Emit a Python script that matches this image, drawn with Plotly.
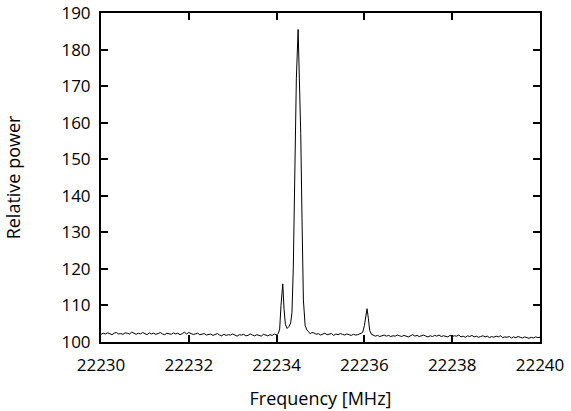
"""Spectrum chart: relative power vs frequency."""

import plotly.graph_objects as go

# baseline segments: start frequency, sample step [MHz], values
left_start, left_step = 22230.0, 0.05
left_power = [
    102.1, 102.4, 102.2, 102.5, 102.3, 102.0, 102.4, 102.6, 102.2, 102.3,
    102.1, 102.5, 102.4, 102.2, 102.7, 102.3, 102.1, 102.4, 102.2, 102.6,
    102.3, 102.0, 102.5, 102.2, 102.4, 102.1, 102.3, 102.6, 102.2, 102.0,
    102.4, 102.3, 102.1, 102.5, 102.2, 102.4, 102.0, 102.3, 102.7, 102.2,
    102.6, 102.3, 102.1, 102.2, 102.4, 102.0, 102.2, 102.3, 101.9, 102.1,
    102.2, 101.8, 102.0, 102.3, 101.9, 101.7, 102.1, 101.8, 102.0, 101.9,
    102.2, 101.8, 101.6, 102.0, 101.9, 102.1, 101.7, 101.8, 102.2, 101.9,
    101.7, 102.0, 101.8, 101.6, 102.1, 101.9, 101.7, 102.0, 101.8, 102.2,
]

# doublet region (explicit samples)
peak1_freq = [
    22234.00, 22234.04, 22234.07, 22234.10, 22234.14, 22234.17, 22234.20,
    22234.24, 22234.28, 22234.32, 22234.35, 22234.38, 22234.42, 22234.45,
    22234.49, 22234.52, 22234.55, 22234.58, 22234.61, 22234.65, 22234.69,
    22234.73, 22234.77, 22234.80,
]
peak1_power = [
    101.9, 102.4, 103.5, 110.0, 115.9, 109.0, 104.8,
    103.7, 104.2, 105.2, 108.0, 120.0, 148.0, 172.0,
    185.5, 172.0, 157.0, 133.0, 111.5, 104.5, 103.3,
    102.8, 102.2, 102.6,
]

mid_start, mid_step = 22234.85, 0.05
mid_power = [
    102.5, 102.1, 102.3, 101.9, 102.2, 102.4, 102.0, 102.1, 102.3, 101.8,
    102.2, 102.0, 102.3, 102.1, 101.9, 102.2, 102.0, 101.8, 102.1, 101.9, 102.0,
]

peak2_freq = [22235.90, 22235.96, 22236.00, 22236.03, 22236.06, 22236.09, 22236.12, 22236.16]
peak2_power = [102.3, 102.6, 104.5, 107.5, 109.1, 106.5, 103.2, 102.1]

right_start, right_step = 22236.20, 0.05
right_power = [
    101.9, 101.6, 101.8, 101.5, 101.7, 101.9, 101.6, 101.8, 101.5, 101.7,
    101.6, 101.9, 101.7, 101.5, 101.8, 101.6, 101.4, 101.7, 102.0, 101.6,
    101.8, 101.5, 101.7, 101.9, 101.6, 101.4, 101.7, 101.5, 101.8, 101.6,
    101.9, 101.5, 101.7, 101.6, 101.4, 101.8, 101.5, 101.7, 101.6, 101.9,
    101.4, 101.6, 101.3, 101.7, 101.5, 101.8, 101.4, 101.6, 101.3, 101.5,
    101.7, 101.4, 101.6, 101.2, 101.5, 101.3, 101.6, 101.4, 101.7, 101.2,
    101.4, 101.3, 101.5, 101.1, 101.4, 101.2, 101.5, 101.3, 101.1, 101.4,
    101.2, 101.0, 101.3, 101.1, 101.4, 101.2, 101.3,
]

x_ticks = [22230, 22232, 22234, 22236, 22238, 22240]
y_ticks = [100, 110, 120, 130, 140, 150, 160, 170, 180, 190]


def sampled(start, step, values):
    return [round(start + i * step, 3) for i in range(len(values))]


freq = (
    sampled(left_start, left_step, left_power)
    + peak1_freq
    + sampled(mid_start, mid_step, mid_power)
    + peak2_freq
    + sampled(right_start, right_step, right_power)
)
power = left_power + peak1_power + mid_power + peak2_power + right_power

title_font = {"family": "Open Sans, Noto Sans, sans-serif", "size": 18, "color": "black"}
tick_font = {"family": "Open Sans, Noto Sans, sans-serif", "size": 17, "color": "black"}

fig = go.Figure()
fig.add_trace(
    go.Scatter(
        x=freq,
        y=power,
        mode="lines",
        line={"color": "black", "width": 1},
        showlegend=False,
    )
)

axis_style = {
    "showline": True,
    "linecolor": "black",
    "linewidth": 2,
    "mirror": "ticks",
    "ticks": "inside",
    "ticklen": 7,
    "tickwidth": 1.5,
    "tickcolor": "black",
    "showgrid": False,
    "zeroline": False,
    "tickfont": tick_font,
    "automargin": False,
}

fig.update_xaxes(
    range=[22230, 22240],
    tickvals=x_ticks,
    ticktext=[str(t) for t in x_ticks],
    ticklabelstandoff=7,
    title={"text": "Frequency [MHz]", "font": title_font, "standoff": 17},
    **axis_style,
)
fig.update_yaxes(
    range=[100, 190],
    tickvals=y_ticks,
    ticklabelstandoff=5,
    title={"text": "Relative power", "font": title_font, "standoff": 36},
    **axis_style,
)
fig.update_layout(
    width=571,
    height=411,
    margin={"l": 101, "r": 31, "t": 13, "b": 69},
    plot_bgcolor="white",
    paper_bgcolor="white",
    font=title_font,
)

# drop the browser's default body margin so the figure fills the window
fig.write_html(
    "out.html",
    config={"displayModeBar": False},
    post_script="document.body.style.margin = '0';",
)
